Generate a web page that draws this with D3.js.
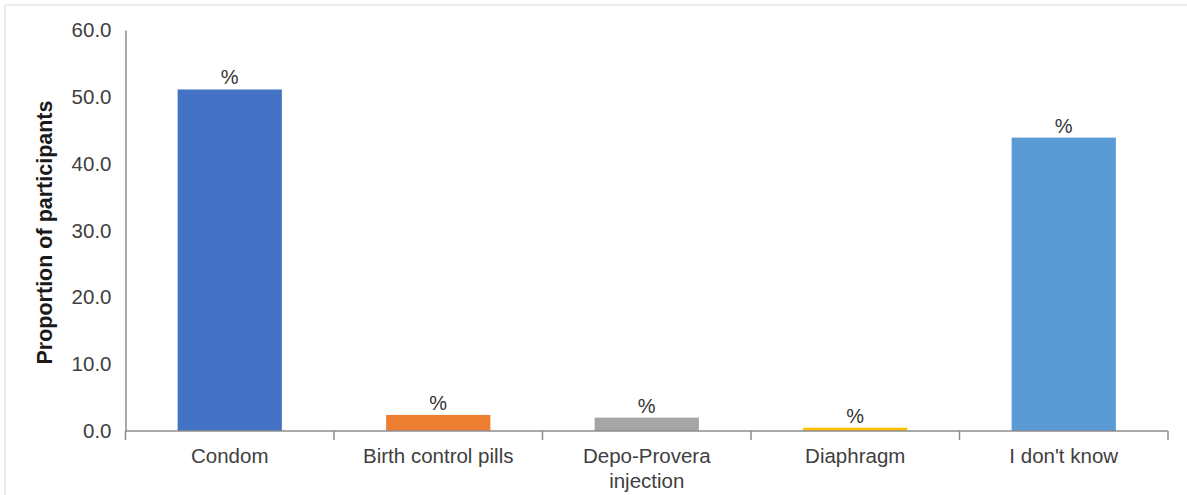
<!DOCTYPE html>
<html>
<head>
<meta charset="utf-8">
<script src="https://cdn.jsdelivr.net/npm/d3@7"></script>
<style>
  html, body { margin: 0; padding: 0; background: #fff; }
  svg { display: block; }
  text { font-family: "Liberation Sans", Arial, sans-serif; }
</style>
</head>
<body>
<svg id="chart" width="1187" height="495"></svg>
<script>
// Contraceptive methods known by participants (% of participants)
const categories = ["Condom", "Birth control pills", "Depo-Provera injection", "Diaphragm", "I don't know"];
const values = [51.1, 2.4, 2.0, 0.5, 43.9];
const barColors = ["#4472C4", "#ED7D31", "#A5A5A5", "#FFC000", "#5B9BD5"];
const yTicks = [0, 10, 20, 30, 40, 50, 60];
const yTitle = "Proportion of participants";
const valueLabel = "%";

const svg = d3.select("#chart");
const W = 1187, H = 495;
const margin = { left: 125.5, right: 19, top: 30, bottom: 64 };

// light frame along top and left edges
svg.append("line").attr("x1", 5).attr("x2", W).attr("y1", 5).attr("y2", 5)
  .attr("stroke", "#ececec").attr("stroke-width", 2);
svg.append("line").attr("x1", 5).attr("x2", 5).attr("y1", 5).attr("y2", H)
  .attr("stroke", "#ececec").attr("stroke-width", 2);

const x = d3.scaleBand()
  .domain(categories)
  .range([margin.left, W - margin.right])
  .paddingInner(0.5)
  .paddingOuter(0.25);

const y = d3.scaleLinear()
  .domain([0, 60])
  .range([H - margin.bottom, margin.top]);

const axisColor = "#8c8c8c";
const textColor = "#404040";
const fontSize = 20.5;

// bars
svg.append("g").selectAll("rect")
  .data(categories)
  .join("rect")
  .attr("x", d => x(d))
  .attr("width", x.bandwidth())
  .attr("y", (d, i) => y(values[i]))
  .attr("height", (d, i) => y(0) - y(values[i]))
  .attr("fill", (d, i) => barColors[i]);

// value labels
svg.append("g").selectAll("text")
  .data(categories)
  .join("text")
  .attr("x", d => x(d) + x.bandwidth() / 2)
  .attr("y", (d, i) => y(values[i]) - 5)
  .attr("text-anchor", "middle")
  .attr("font-size", 20)
  .attr("fill", "#333")
  .text(valueLabel);

// y axis
const yAxis = d3.axisLeft(y)
  .tickValues(yTicks)
  .tickFormat(d3.format(".1f"))
  .tickSize(0)
  .tickPadding(14);
const gy = svg.append("g")
  .attr("transform", `translate(${margin.left},0)`)
  .call(yAxis);
gy.select(".domain").attr("stroke", axisColor).attr("stroke-width", 1.5);
gy.selectAll("text")
  .attr("font-size", fontSize)
  .attr("fill", textColor)
  .attr("font-family", "Liberation Sans, Arial, sans-serif");

// x axis: tick marks at category boundaries
const step = x.step();
const boundaries = d3.range(categories.length + 1).map(i => margin.left + i * step);
svg.append("line")
  .attr("x1", margin.left).attr("x2", W - margin.right)
  .attr("y1", y(0)).attr("y2", y(0))
  .attr("stroke", axisColor).attr("stroke-width", 1.5);
svg.append("g").selectAll("line")
  .data(boundaries)
  .join("line")
  .attr("x1", d => d).attr("x2", d => d)
  .attr("y1", y(0)).attr("y2", y(0) + 9)
  .attr("stroke", axisColor).attr("stroke-width", 1.5);

// category labels (wrapped where needed)
const catLines = {
  "Depo-Provera injection": ["Depo-Provera", "injection"]
};
const xl = svg.append("g").selectAll("text")
  .data(categories)
  .join("text")
  .attr("x", d => x(d) + x.bandwidth() / 2)
  .attr("y", y(0) + 32)
  .attr("text-anchor", "middle")
  .attr("font-size", fontSize)
  .attr("fill", textColor);
xl.each(function(d) {
  const lines = catLines[d] || [d];
  const t = d3.select(this);
  lines.forEach((ln, i) => {
    t.append("tspan")
      .attr("x", x(d) + x.bandwidth() / 2)
      .attr("dy", i === 0 ? 0 : 25)
      .text(ln);
  });
});

// y axis title
svg.append("text")
  .attr("transform", `translate(52,${(y(0) + y(60)) / 2 + 2}) rotate(-90)`)
  .attr("text-anchor", "middle")
  .attr("font-size", 21.5)
  .attr("font-weight", "bold")
  .attr("fill", "#1a1a1a")
  .text(yTitle);
</script>
</body>
</html>
